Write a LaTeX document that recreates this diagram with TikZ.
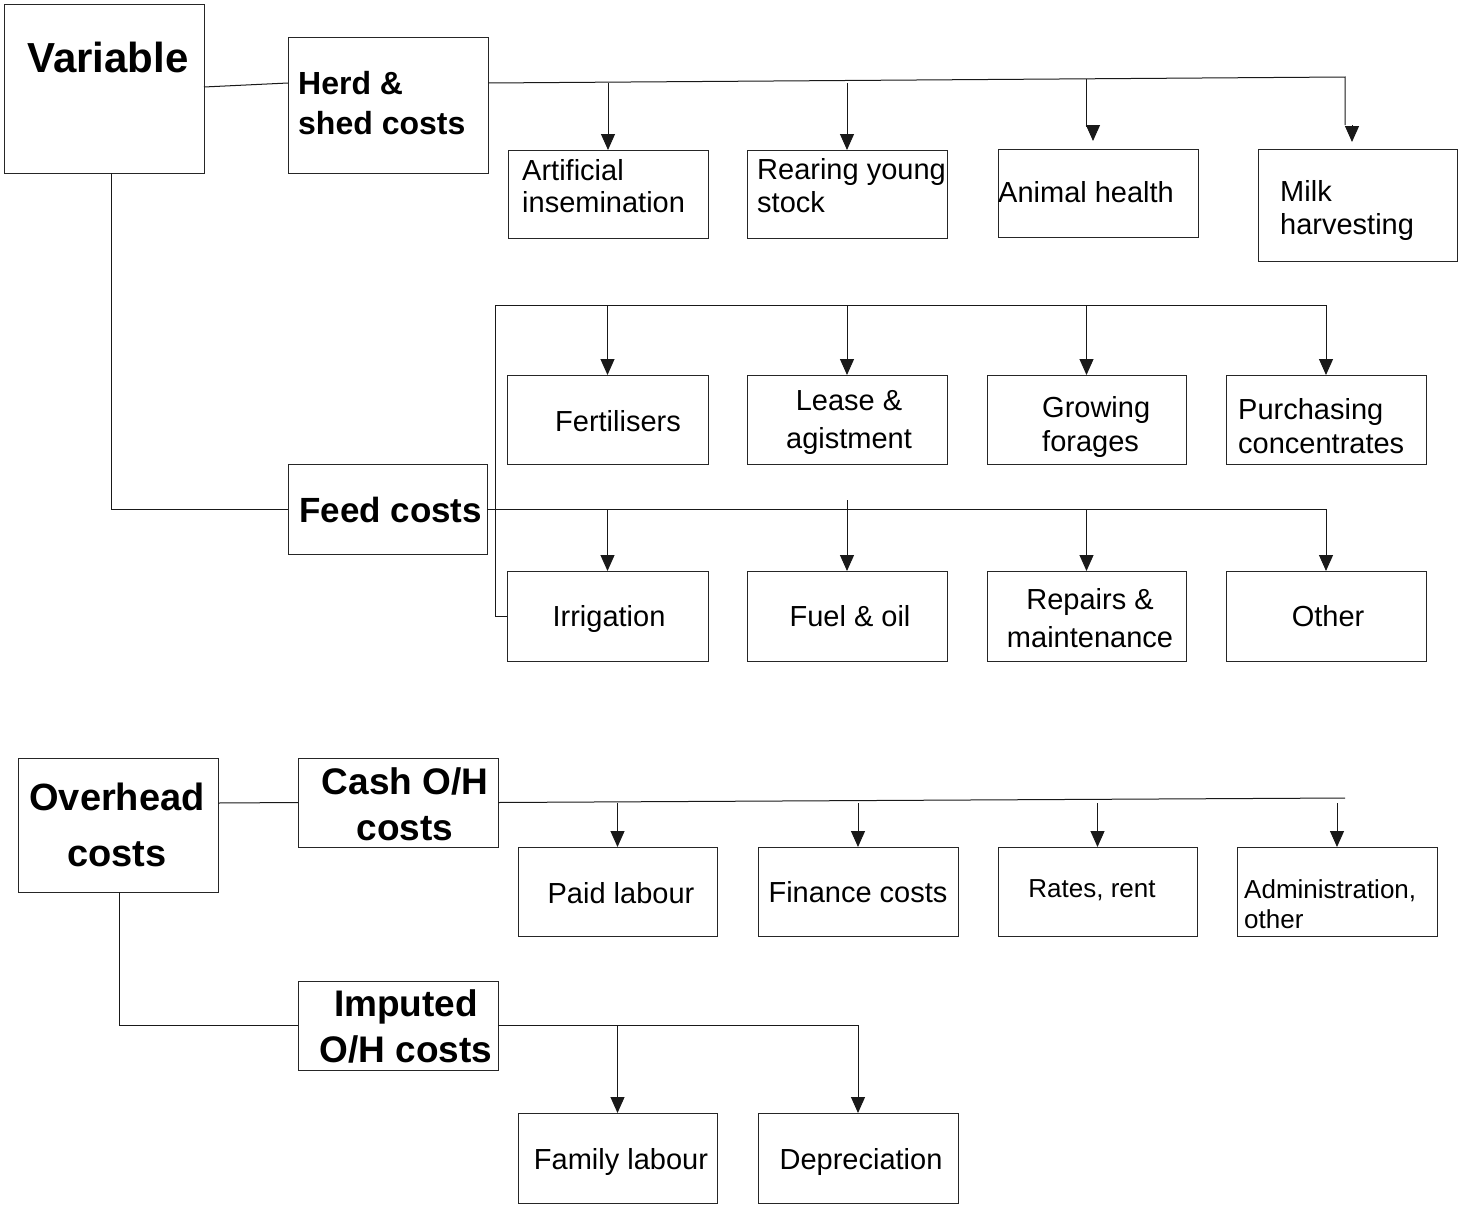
\documentclass[tikz,border=0pt]{standalone}
\usepackage{fontspec}
\setmainfont{Liberation Sans}
\usetikzlibrary{arrows.meta}
\tikzset{
  box/.style={draw=black!85, line width=1pt, rectangle, anchor=north west, inner sep=0pt, outer sep=0pt},
  ln/.style={draw=black!90, line width=1pt},
  arr/.style={ln, -{Triangle[length=16pt,width=14pt]}},
  reg/.style={inner sep=0pt, font=\fontsize{29}{32}\selectfont},
  sml/.style={inner sep=0pt, font=\fontsize{26}{30}\selectfont},
  hd/.style={inner sep=0pt, font=\bfseries\fontsize{37}{46}\selectfont},
}
\newcommand\bx[5]{\node[box, minimum width=#4pt, minimum height=#5pt] (#1) at (#2,#3) {};}
\begin{document}
\begin{tikzpicture}[x=1pt,y=-1pt]
\useasboundingbox (0,0) rectangle (1458,1207);
% boxes
\bx{var}{4}{5}{200}{168}
\bx{herd}{288}{38}{200}{135}
\bx{ai}{508}{150}{200}{88}
\bx{ry}{747}{150}{200}{88}
\bx{ah}{998}{149}{200}{88}
\bx{mh}{1258}{149}{199}{112}
\bx{fert}{507}{375}{201}{89}
\bx{lease}{747}{375}{200}{89}
\bx{grow}{987}{375}{199}{89}
\bx{purch}{1226}{375}{200}{89}
\bx{feed}{288}{464}{199}{90}
\bx{irr}{507}{571}{201}{90}
\bx{fuel}{747}{571}{200}{90}
\bx{rep}{987}{571}{199}{90}
\bx{oth}{1226}{571}{200}{90}
\bx{oh}{18}{758}{200}{134}
\bx{cash}{298}{758}{200}{89}
\bx{paid}{518}{847}{199}{89}
\bx{fin}{758}{847}{200}{89}
\bx{rates}{998}{847}{199}{89}
\bx{adm}{1237}{847}{200}{89}
\bx{imp}{298}{981}{200}{89}
\bx{fam}{518}{1113}{199}{90}
\bx{dep}{758}{1113}{200}{90}
% texts
\node[inner sep=0pt, font=\bfseries\fontsize{42}{46}\selectfont] (tvar) at (108,57) {Variable};
\node[inner sep=0pt, anchor=west, align=left, font=\bfseries\fontsize{32}{40}\selectfont] (therd) at (298,103) {Herd \&\\shed costs};
\node[reg, anchor=west, align=left] (tai) at (522,186) {Artificial\\insemination};
\node[reg, anchor=west, align=left, font=\fontsize{29}{33}\selectfont] (try) at (757,186) {Rearing young\\stock};
\node[reg, anchor=west] (tah) at (998,192) {Animal health};
\node[reg, anchor=west, align=left, font=\fontsize{29}{33}\selectfont] (tmh) at (1280,210) {Milk\\harvesting};
\node[reg] (tfert) at (618,421) {Fertilisers};
\node[reg, align=center, font=\fontsize{29}{38}\selectfont] (tlease) at (849,422) {Lease \&\\agistment};
\node[reg, anchor=west, align=left, font=\fontsize{29}{34}\selectfont] (tgrow) at (1042,427) {Growing\\forages};
\node[reg, anchor=west, align=left, font=\fontsize{29}{34}\selectfont] (tpurch) at (1238,426) {Purchasing\\concentrates};
\node[inner sep=0pt, anchor=west, font=\bfseries\fontsize{35}{40}\selectfont] (tfeed) at (299,510) {Feed costs};
\node[reg] (tirr) at (609,619) {Irrigation};
\node[reg] (tfuel) at (850,616) {Fuel \& oil};
\node[reg, align=center, font=\fontsize{29}{38}\selectfont] (trep) at (1090,618) {Repairs \&\\maintenance};
\node[reg] (toth) at (1328,616) {Other};
\node[hd, align=center, font=\bfseries\fontsize{38}{56}\selectfont] (toh) at (117,825) {Overhead\\costs};
\node[hd, align=center] (tcash) at (405,804) {Cash O/H\\costs};
\node[reg] (tpaid) at (621,893) {Paid labour};
\node[reg] (tfin) at (858,892) {Finance costs};
\node[sml] (trates) at (1092,890) {Rates, rent};
\node[sml, anchor=west, align=left] (tadm) at (1244,904) {Administration,\\other};
\node[hd, align=center] (timp) at (406,1026) {Imputed\\O/H costs};
\node[reg] (tfam) at (621,1162) {Family labour};
\node[reg] (tdep) at (861,1162) {Depreciation};
% coordinates
\coordinate (hs) at (488,83);
\coordinate (hEnd) at (1345,77);
\coordinate (ftop) at (495,305);
\coordinate (cEnd) at (1345,798);
% connectors: herd & shed
\draw[ln] ([yshift=2pt]var.east) -- ([yshift=22.5pt]herd.west);
\draw[ln] (hs) -- (hEnd) -- ([xshift=-12.5pt,yshift=24pt]mh.north);
\draw[arr] ([xshift=-5.5pt,yshift=24pt]mh.north) -- ([xshift=-5.5pt,yshift=7pt]mh.north);
\draw[arr] (ai.north |- hs) -- (ai.north);
\draw[arr] (ry.north |- hs) -- (ry.north);
\draw[ln] ([xshift=-12pt,yshift=70pt]ah.north) -- ([xshift=-12pt,yshift=22pt]ah.north);
\draw[arr] ([xshift=-5pt,yshift=22pt]ah.north) -- ([xshift=-5pt,yshift=8pt]ah.north);
% feed
\draw[ln] ([xshift=7pt]var.south) |- (feed.west);
\draw[arr] (feed.east) -| (oth.north);
\draw[arr] (irr.north |- feed.east) -- (irr.north);
\draw[arr] ([yshift=71pt]fuel.north) -- (fuel.north);
\draw[arr] (rep.north |- feed.east) -- (rep.north);
\draw[arr] (irr.west) -- (irr.west -| ftop) -- (ftop) -| (purch.north);
\draw[arr] (fert.north |- ftop) -- (fert.north);
\draw[arr] (lease.north |- ftop) -- (lease.north);
\draw[arr] (grow.north |- ftop) -- (grow.north);
% overhead
\draw[ln] ([yshift=22pt]oh.east) -- (cash.west);
\draw[ln] (cash.east) -- (cEnd);
\draw[arr] ([yshift=44pt]paid.north) -- (paid.north);
\draw[arr] ([yshift=44pt]fin.north) -- (fin.north);
\draw[arr] ([yshift=44pt]rates.north) -- (rates.north);
\draw[arr] ([yshift=44pt]adm.north) -- (adm.north);
\draw[ln] ([xshift=1pt]oh.south) |- (imp.west);
\draw[arr] (imp.east) -| (dep.north);
\draw[arr] (fam.north |- imp.east) -- (fam.north);
\end{tikzpicture}
\end{document}
